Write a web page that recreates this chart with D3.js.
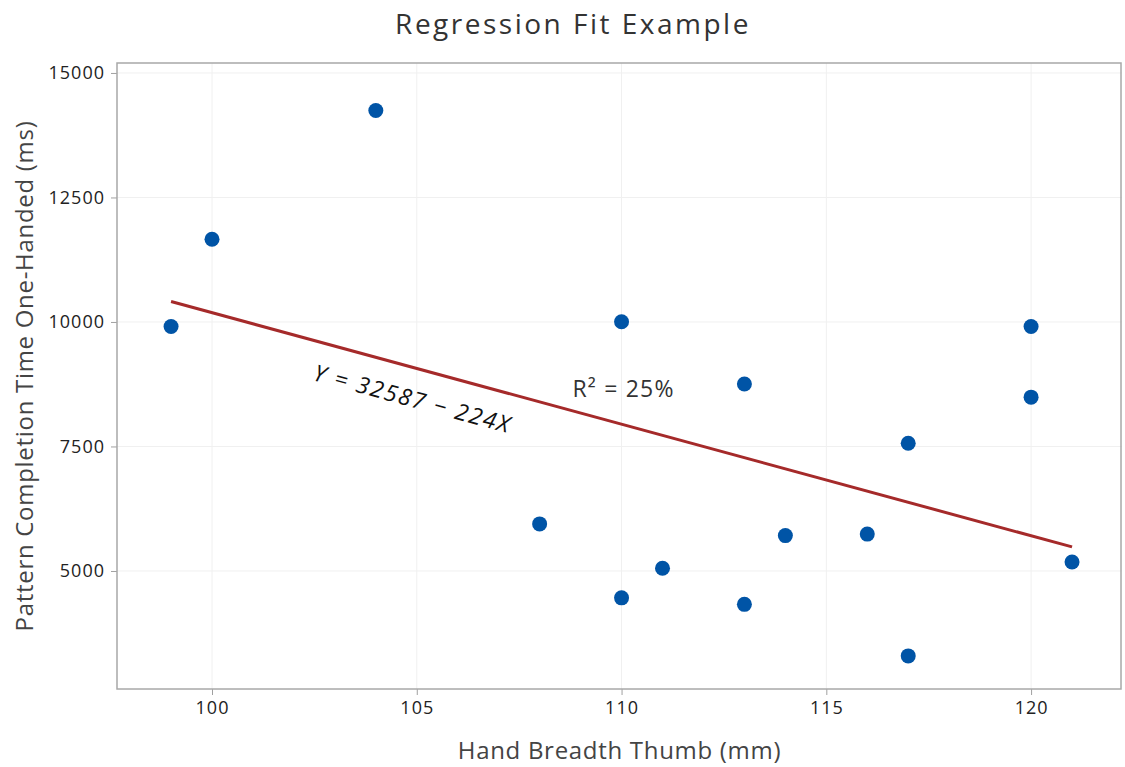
<!DOCTYPE html>
<html>
<head>
<meta charset="utf-8">
<script src="https://cdn.jsdelivr.net/npm/d3@7"></script>
<style>
  body { margin: 0; background: #fff; }
  text { font-family: "Open Sans", "Noto Sans", sans-serif; }
</style>
</head>
<body>
<div id="chart"></div>
<script>
// Data
const handBreadth = [99, 100, 104, 108, 110, 110, 111, 113, 113, 114, 116, 117, 117, 120, 120, 121];
const completionTime = [9910, 11660, 14245, 5945, 10005, 4460, 5055, 8755, 4330, 5710, 5740, 7565, 3295, 9910, 8490, 5180];
const xTicks = [100, 105, 110, 115, 120];
const yTicks = [5000, 7500, 10000, 12500, 15000];
const fitIntercept = 32587;
const fitSlope = -224;
const fitRange = [99, 121];
const titleText = 'Regression Fit Example';
const xLabel = 'Hand Breadth Thumb (mm)';
const yLabel = 'Pattern Completion Time One-Handed (ms)';
const equationText = 'Y = 32587 \u2212 224X';
const r2Text = 'R\u00B2 = 25%';

const width = 1125, height = 767;
const margin = { top: 63, right: 3, bottom: 78, left: 117 };

const svg = d3.select('#chart')
  .append('svg')
  .attr('width', width)
  .attr('height', height);

// Scales
const x = d3.scaleLinear()
  .domain([97.68, 122.22])
  .range([margin.left, width - margin.right]);

const y = d3.scaleLinear()
  .domain([2630, 15200])
  .range([height - margin.bottom, margin.top]);

// Grid lines
svg.append('g')
  .selectAll('line')
  .data(xTicks)
  .enter()
  .append('line')
  .attr('x1', d => x(d)).attr('x2', d => x(d))
  .attr('y1', margin.top).attr('y2', height - margin.bottom)
  .style('stroke', '#f0f0f0')
  .style('stroke-width', 1);

svg.append('g')
  .selectAll('line')
  .data(yTicks)
  .enter()
  .append('line')
  .attr('x1', margin.left).attr('x2', width - margin.right)
  .attr('y1', d => y(d)).attr('y2', d => y(d))
  .style('stroke', '#f0f0f0')
  .style('stroke-width', 1);

// Axes
const xAxis = svg.append('g')
  .attr('transform', `translate(0, ${height - margin.bottom})`)
  .call(d3.axisBottom(x).tickValues(xTicks).tickSize(6).tickPadding(6).tickFormat(d3.format('d')));

const yAxis = svg.append('g')
  .attr('transform', `translate(${margin.left}, 0)`)
  .call(d3.axisLeft(y).tickValues(yTicks).tickSize(6).tickPadding(6).tickFormat(d3.format('d')));

[xAxis, yAxis].forEach(a => {
  a.select('.domain').remove();
  a.selectAll('line').style('stroke', '#a0a0a0');
  a.selectAll('text')
    .style('font-size', '18px')
    .style('letter-spacing', '1px')
    .style('fill', '#222')
    .style('font-family', '"Open Sans", sans-serif');
});

// Plot frame
svg.append('rect')
  .attr('x', margin.left)
  .attr('y', margin.top)
  .attr('width', width - margin.left - margin.right - 1)
  .attr('height', height - margin.top - margin.bottom)
  .style('fill', 'none')
  .style('stroke', '#a8a8a8')
  .style('stroke-width', 1.5);

// Fit line
const fitLine = d3.line()
  .x(d => x(d))
  .y(d => y(fitIntercept + fitSlope * d));

svg.append('path')
  .datum(fitRange)
  .attr('d', fitLine)
  .style('fill', 'none')
  .style('stroke', '#a52a2a')
  .style('stroke-width', 3);

// Points
svg.selectAll('circle.pt')
  .data(handBreadth.map((d, i) => ({ x: d, y: completionTime[i] })))
  .enter()
  .append('circle')
  .attr('class', 'pt')
  .attr('cx', d => x(d.x))
  .attr('cy', d => y(d.y))
  .attr('r', 7.5)
  .style('fill', '#0054a6');

// Annotations
const x0 = x(fitRange[0]), x1 = x(fitRange[1]);
const y0 = y(fitIntercept + fitSlope * fitRange[0]), y1 = y(fitIntercept + fitSlope * fitRange[1]);
const angle = Math.atan2(y1 - y0, x1 - x0) * 180 / Math.PI;

svg.append('text')
  .attr('transform', `translate(${x(102.45)}, ${y(8835)}) rotate(${angle})`)
  .style('font-size', '23px')
  .style('letter-spacing', '1.8px')
  .style('font-style', 'italic')
  .style('fill', '#111')
  .style('text-anchor', 'start')
  .text(equationText);

svg.append('text')
  .attr('x', x(108.8))
  .attr('y', y(8494))
  .style('font-size', '23px')
  .style('letter-spacing', '1.2px')
  .style('fill', '#333')
  .style('text-anchor', 'start')
  .text(r2Text);

// Title and axis labels
svg.append('text')
  .attr('x', 573)
  .attr('y', 34)
  .style('font-size', '28px')
  .style('letter-spacing', '2.5px')
  .style('fill', '#333')
  .style('text-anchor', 'middle')
  .text(titleText);

svg.append('text')
  .attr('x', (margin.left + width - margin.right) / 2)
  .attr('y', 759)
  .style('font-size', '24px')
  .style('letter-spacing', '0.7px')
  .style('fill', '#444')
  .style('text-anchor', 'middle')
  .text(xLabel);

svg.append('text')
  .attr('transform', 'rotate(-90)')
  .attr('x', -(margin.top + height - margin.bottom) / 2)
  .attr('y', 33)
  .style('font-size', '24px')
  .style('letter-spacing', '0.7px')
  .style('fill', '#444')
  .style('text-anchor', 'middle')
  .text(yLabel);
</script>
</body>
</html>
